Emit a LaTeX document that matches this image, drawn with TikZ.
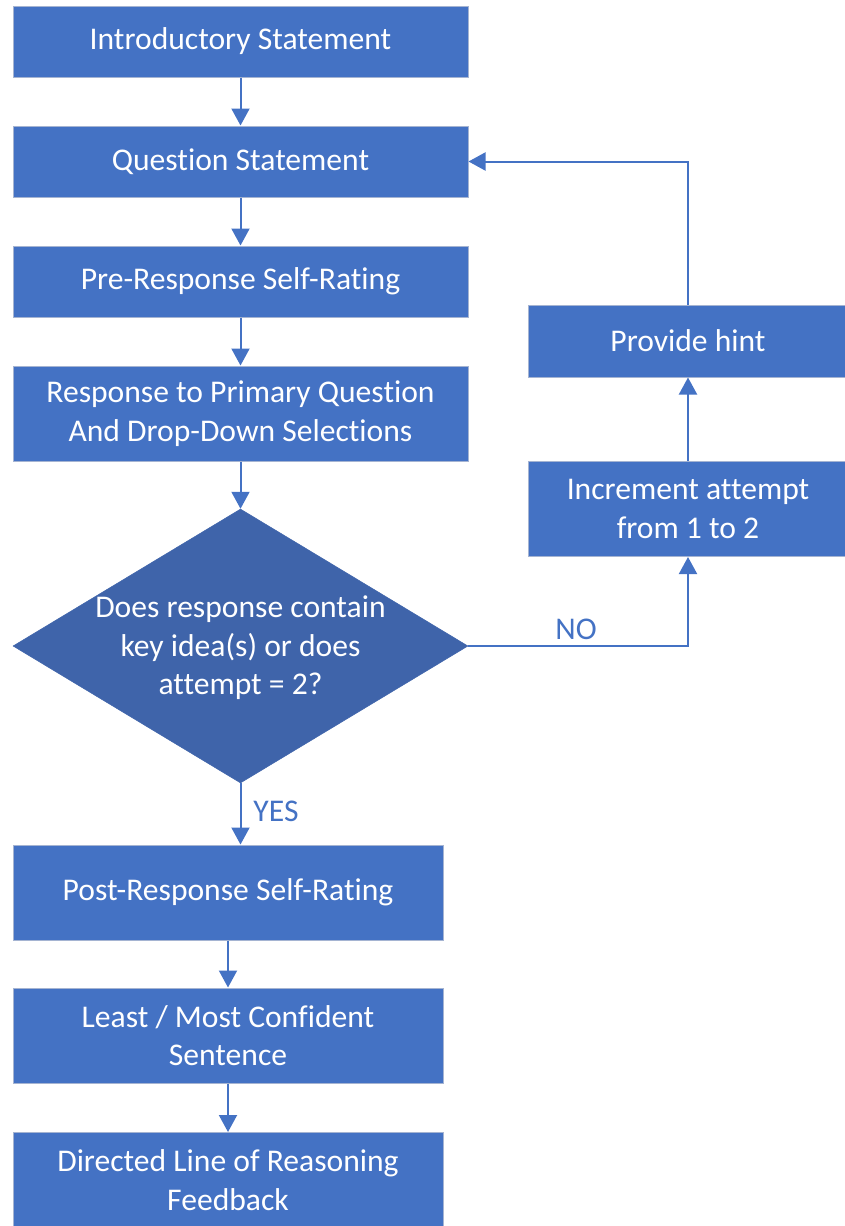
\documentclass[tikz,border=0pt]{standalone}
\usepackage{fontspec}
\setmainfont[Ligatures=NoCommon]{Carlito}
\usetikzlibrary{arrows.meta,shapes.geometric}
\definecolor{boxblue}{RGB}{68,114,196}
\definecolor{diablue}{RGB}{63,100,170}
\definecolor{edgegray}{RGB}{165,180,210}
\begin{document}
\begin{tikzpicture}[x=1pt,y=-1pt,
  every node/.style={font=\fontsize{31.6}{38.5}\selectfont},
  procbox/.style={rectangle,fill=boxblue,draw=edgegray,line width=1pt,text=white,align=center,inner sep=0pt},
  wide/.style={minimum width=455pt},
  narrow/.style={minimum width=430pt},
  lowbox/.style={minimum height=71pt},
  tallbox/.style={minimum height=95pt},
  arr/.style={draw=boxblue,line width=2pt,-{Triangle[width=18pt,length=17pt]}},
  lbl/.style={text=boxblue,inner sep=0pt}
]
\useasboundingbox (0,0) rectangle (844,1226);
\node[procbox,wide,lowbox] (intro) at (240.5,41.5) {Introductory Statement};
\node[procbox,wide,lowbox] (q) at (240.5,161.5) {Question Statement};
\node[procbox,wide,lowbox] (pre) at (240.5,281.5) {Pre-Response Self-Rating};
\node[procbox,wide,tallbox] (resp) at (240.5,413.5) {Response to Primary Question\\And Drop-Down Selections};
\node[diamond,fill=diablue,draw=diablue,line width=0.5pt,inner sep=0pt,minimum width=455pt,minimum height=274pt] (dia) at (240.5,646) {};
\node[text=white,align=center,inner sep=0pt] (diatext) at (240.5,648) {Does response contain\\key idea(s) or does\\attempt = 2?};
\node[procbox,narrow,tallbox] (post) at (228,892.5) {Post-Response Self-Rating};
\node[procbox,narrow,tallbox] (least) at (228,1035.5) {Least / Most Confident\\Sentence};
\node[procbox,narrow,tallbox] (dir) at (228,1180) {Directed Line of Reasoning\\Feedback};
\node[procbox,minimum width=320pt,minimum height=72pt] (hint) at (688,341) {Provide hint};
\node[procbox,minimum width=320pt,tallbox] (inc) at (688,509) {Increment attempt\\from 1 to 2};
\draw[arr] (intro.south) -- (q.north);
\draw[arr] (q.south) -- (pre.north);
\draw[arr] (pre.south) -- (resp.north);
\draw[arr] (resp.south) -- (dia.north);
\draw[arr] (dia.south) -- (dia.south |- post.north);
\draw[arr] (post.south) -- (least.north);
\draw[arr] (least.south) -- (dir.north);
\draw[arr] (dia.east) -| (inc.south);
\draw[arr] (inc.north) -- (hint.south);
\draw[arr] (hint.north) |- (q.east);
\node[lbl] (no) at (576,629) {NO};
\node[lbl] (yes) at (276,811) {YES};
\end{tikzpicture}
\end{document}
